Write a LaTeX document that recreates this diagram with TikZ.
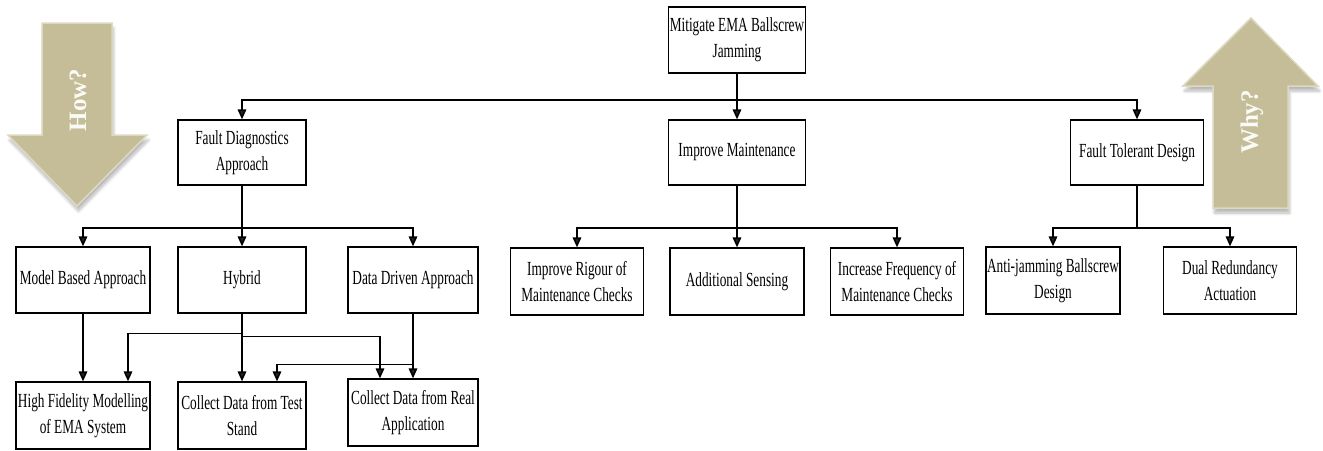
\documentclass[tikz,border=0pt]{standalone}
\usepackage{fontspec}
\setmainfont{Liberation Serif}[FakeStretch=0.665]
\newfontfamily\arrowfont{Liberation Serif}
\usetikzlibrary{arrows.meta,shadows.blur}
\definecolor{tan}{HTML}{C4BD97}
\definecolor{tanlight}{HTML}{DDD8C0}
\tikzset{
  box/.style={draw, line width=1.2pt, align=center, inner xsep=1pt, inner ysep=1pt,
    font=\fontsize{20}{26}\selectfont},
  arr/.style={line width=1.6pt, -{Triangle[length=10pt,width=8.5pt]}},
  ln/.style={line width=1.6pt},
  bigarrow/.style={fill=tan, draw=tanlight, line width=1.5pt,
    blur shadow={shadow xshift=1.5pt, shadow yshift=-5pt, shadow blur steps=8, shadow blur radius=3pt, shadow opacity=28}},
  arrowtext/.style={rotate=90, text=white!92!tan, font=\arrowfont\bfseries\fontsize{25}{28}\selectfont}
}
\begin{document}
\begin{tikzpicture}[x=1pt,y=-1pt]
\useasboundingbox (0,0) rectangle (1323,450);
% big arrows
\path[bigarrow] (42,23) -- (112,23) -- (112,135) -- (147,135) -- (77,206) -- (8,135) -- (42,135) -- cycle;
\node[arrowtext] (how) at (78,100) {How?};
\path[bigarrow] (1213,208) -- (1288,208) -- (1288,86) -- (1318,86) -- (1251,18) -- (1183,86) -- (1213,86) -- cycle;
\node[arrowtext] (why) at (1252,122) {Why?};
% boxes
\node[box, minimum width=134, minimum height=66] (top) at (737,40) {Mitigate EMA Ballscrew\\Jamming};
\node[box, minimum width=128, minimum height=65] (fd) at (242,152.5) {Fault Diagnostics\\Approach};
\node[box, minimum width=137, minimum height=65] (im) at (737,152.5) {Improve Maintenance};
\node[box, minimum width=133, minimum height=65] (ft) at (1137,152.5) {Fault Tolerant Design};
\node[box, minimum width=134, minimum height=66] (mb) at (83,280) {Model Based Approach};
\node[box, minimum width=128, minimum height=66] (hy) at (242,280) {Hybrid};
\node[box, minimum width=130, minimum height=66] (dd) at (413,280) {Data Driven Approach};
\node[box, minimum width=133, minimum height=67] (ir) at (577,281.5) {Improve Rigour of\\Maintenance Checks};
\node[box, minimum width=134, minimum height=67] (as) at (737,281.5) {Additional Sensing};
\node[box, minimum width=133, minimum height=67] (ifq) at (897,281.5) {Increase Frequency of\\Maintenance Checks};
\node[box, minimum width=134, minimum height=67] (aj) at (1053,280.5) {Anti-jamming Ballscrew\\Design};
\node[box, minimum width=133, minimum height=67] (dr) at (1230,280.5) {Dual Redundancy\\Actuation};
\node[box, minimum width=134, minimum height=67] (hf) at (83,415.5) {High Fidelity Modelling\\of EMA System};
\node[box, minimum width=128, minimum height=67] (ts) at (242,415.5) {Collect Data from Test\\Stand};
\node[box, minimum width=130, minimum height=67] (ra) at (413,412.5) {Collect Data from Real\\Application};
% junctions
\coordinate (j1) at (737,100);
\coordinate (j2) at (242,228);
\coordinate (j3) at (737,228);
\coordinate (j4) at (1137,228);
% top level
\draw[arr] (top.south) -- (im.north);
\draw[arr] (j1) -| (fd.north);
\draw[arr] (j1) -| (ft.north);
% fault diagnostics
\draw[ln] (fd.south) -- (j2);
\draw[arr] (j2) -| (mb.north);
\draw[arr] (j2) -- (hy.north);
\draw[arr] (j2) -| (dd.north);
% maintenance
\draw[ln] (im.south) -- (j3);
\draw[arr] (j3) -| (ir.north);
\draw[arr] (j3) -- (as.north);
\draw[arr] (j3) -| (ifq.north);
% fault tolerant
\draw[ln] (ft.south) -- (j4);
\draw[arr] (j4) -| (aj.north);
\draw[arr] (j4) -| (dr.north);
% lower
\draw[arr] (mb.south) -- (hf.north);
\draw[arr] (hy.south) -- (ts.north);
\draw[arr] (hy.south) -- ++(0,20) -| ([xshift=45pt]hf.north);
\draw[arr] (hy.south) -- ++(0,23) -| ([xshift=-33pt]ra.north);
\draw[arr] (dd.south) -- (ra.north);
\draw[arr] (dd.south) -- ++(0,51) -| ([xshift=35pt]ts.north);
\end{tikzpicture}
\end{document}
